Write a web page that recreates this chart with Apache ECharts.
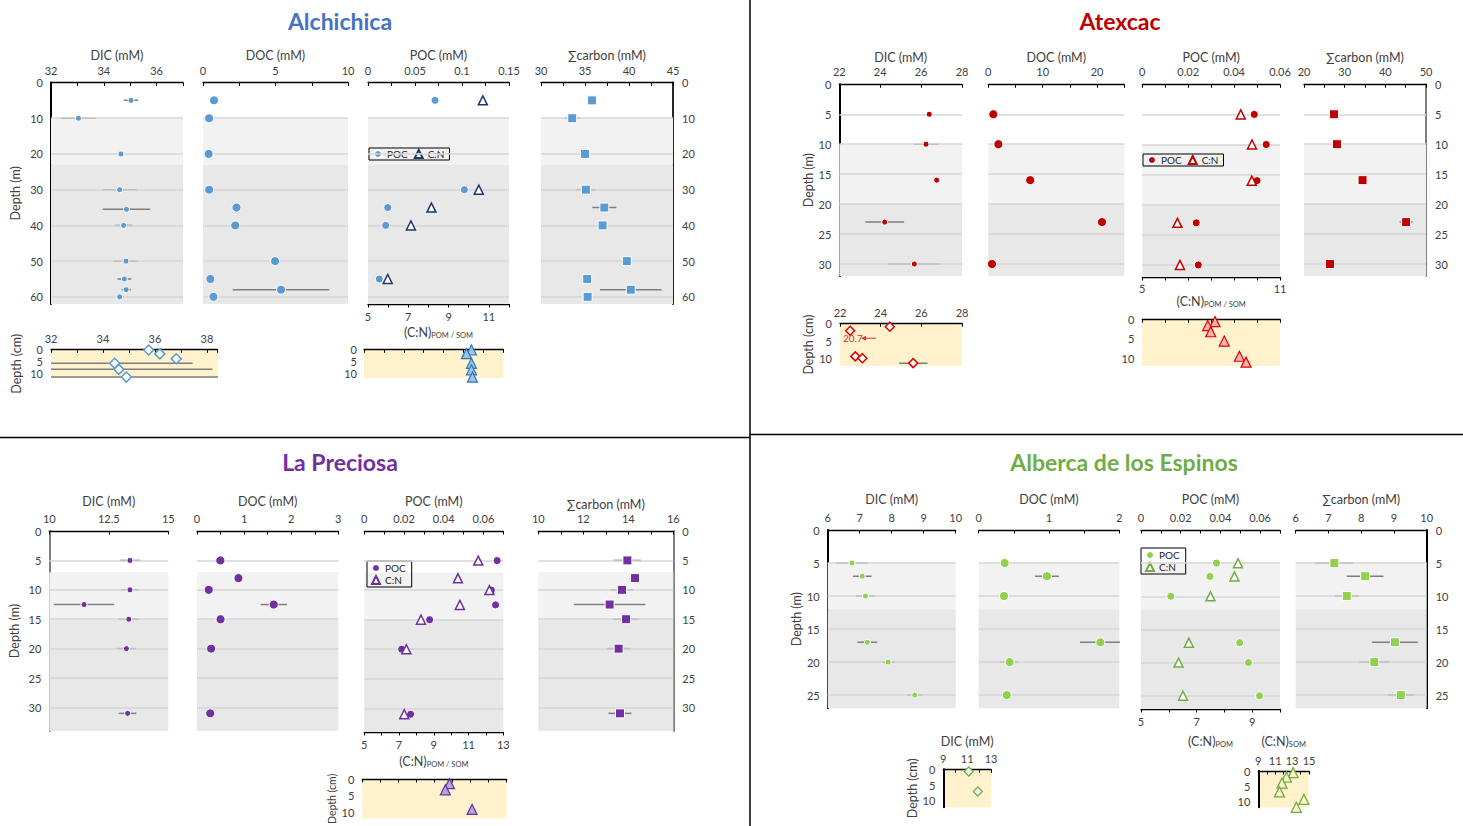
<!DOCTYPE html>
<html>
<head>
<meta charset="utf-8">
<script src="https://cdn.jsdelivr.net/npm/echarts@6/dist/echarts.min.js"></script>
<style>
html, body { margin: 0; padding: 0; background: #fff; }
#main { width: 1463px; height: 826px; }
</style>
</head>
<body>
<div id="main"></div>
<script>
// ---------- Alchichica ----------
var alcDicDepth = [5, 10, 20, 30, 35.5, 40, 50, 55, 58, 60];
var alcDic = [35.03, 33.04, 34.65, 34.6, 34.86, 34.75, 34.84, 34.78, 34.85, 34.6];
var alcDicErr = [0.27, 0.66, 0.05, 0.65, 0.9, 0.34, 0.46, 0.26, 0.18, 0.05];
var alcDocDepth = [5, 10, 20, 30, 35, 40, 50, 55, 58, 60];
var alcDoc = [0.76, 0.42, 0.39, 0.42, 2.31, 2.22, 4.97, 0.51, 5.38, 0.72];
var alcDocErr = [0, 0, 0, 0, 0, 0, 0, 0, 3.33, 0.3];
var alcPocDepth = [5, 30, 35, 40, 55];
var alcPoc = [0.0713, 0.1025, 0.021, 0.0188, 0.012];
var alcCn = [10.7, 10.5, 8.15, 7.13, 5.98];
var alcSumDepth = [5, 10, 20, 30, 35, 40, 50, 55, 58, 60];
var alcSum = [35.8, 33.55, 35.0, 35.1, 37.2, 37.0, 39.75, 35.25, 40.2, 35.3];
var alcSumErr = [0.45, 0.9, 0.1, 1.1, 1.36, 0.3, 0.3, 0.2, 3.5, 0.1];
var alcSedDicDepth = [0.3, 1.9, 3.9, 5.8, 8.3, 11.5];
var alcSedDic = [35.76, 36.19, 36.82, 34.45, 34.61, 34.9];
var alcSedDicErr = [0, 0, 0, 3.0, 3.6, 3.6];
var alcSedCnDepth = [0.3, 1.8, 5.8, 8.5, 11.5];
var alcSedCn = [10.4, 10.15, 10.4, 10.4, 10.45];
var alcBands = [[10, 23], [23, 62]];
var alcDepthTicks = [0, 10, 20, 30, 40, 50, 60];
var alcGridLines = [10, 20, 30, 40, 50, 60];

// ---------- Atexcac ----------
var atxDepth = [5, 10, 16, 23, 30];
var atxDic = [26.4, 26.24, 26.76, 24.22, 25.67];
var atxDicErr = [0.05, 0.61, 0.05, 0.95, 1.29];
var atxDoc = [0.92, 1.85, 7.7, 20.9, 0.68];
var atxPoc = [0.0488, 0.054, 0.05, 0.0235, 0.0244];
var atxCn = [9.29, 9.78, 9.77, 6.53, 6.64];
var atxSum = [27.38, 28.1, 34.4, 45.1, 26.4];
var atxSumErr = [0.4, 0.4, 0.5, 1.6, 1.5];
var atxSedDicDepth = [0.95, 2.1, 9.3, 9.8, 11.2];
var atxSedDic = [24.45, 22.5, 22.75, 23.1, 25.6];
var atxSedDicErr = [0, 0, 0, 0, 0.7];
var atxSedOffDepth = [4.2];
var atxSedOffValue = [20.7];
var atxSedCnDepth = [0.6, 1.6, 3.2, 5.6, 9.5, 11];
var atxSedCn = [8.17, 7.85, 7.98, 8.57, 9.23, 9.52];
var atxBands = [[10, 20], [20, 32]];
var atxDepthTicks = [0, 5, 10, 15, 20, 25, 30];
var atxGridLines = [5, 10, 15, 20, 25, 30];

// ---------- La Preciosa ----------
var lapDicDepth = [5, 10, 12.5, 15, 20, 31];
var lapDic = [13.39, 13.39, 11.46, 13.34, 13.24, 13.29];
var lapDicErr = [0.41, 0.37, 1.27, 0.44, 0.41, 0.37];
var lapDocDepth = [5, 8, 10, 12.5, 15, 20, 31];
var lapDoc = [0.495, 0.88, 0.25, 1.63, 0.5, 0.3, 0.28];
var lapDocErr = [0, 0, 0, 0.28, 0.05, 0.1, 0];
var lapPocDepth = [5, 10, 12.5, 15, 20, 31];
var lapPoc = [0.0669, 0.064, 0.0661, 0.0329, 0.0188, 0.0233];
var lapCnDepth = [5, 8, 10, 12.5, 15, 20, 31];
var lapCn = [11.56, 10.39, 12.2, 10.5, 8.26, 7.42, 7.3];
var lapSumDepth = [5, 8, 10, 12.5, 15, 20, 31];
var lapSum = [13.96, 14.3, 13.72, 13.17, 13.9, 13.57, 13.63];
var lapSumErr = [0.61, 0, 0.51, 1.59, 0.59, 0.52, 0.51];
var lapSedCnDepth = [1.4, 3.3, 9.2];
var lapSedCn = [9.83, 9.6, 11.08];
var lapBands = [[7, 15], [15, 34]];
var lapDepthTicks = [0, 5, 10, 15, 20, 25, 30];
var lapGridLines = [5, 10, 15, 20, 25, 30];

// ---------- Alberca de los Espinos ----------
var albDepth = [5, 7, 10, 17, 20, 25];
var albDic = [6.76, 7.08, 7.18, 7.24, 7.89, 8.72];
var albDicErr = [0.49, 0.29, 0.3, 0.31, 0.21, 0.24];
var albDoc = [0.37, 0.97, 0.36, 1.73, 0.44, 0.4];
var albDocErr = [0.02, 0.17, 0.07, 0.29, 0.13, 0.07];
var albPoc = [0.038, 0.0347, 0.015, 0.0497, 0.0541, 0.0597];
var albCn = [8.49, 8.36, 7.5, 6.72, 6.35, 6.51];
var albSum = [7.18, 8.12, 7.56, 9.03, 8.4, 9.21];
var albSumErr = [0.58, 0.56, 0.38, 0.7, 0.46, 0.4];
var albSedDicDepth = [0.7, 7];
var albSedDic = [11.13, 11.9];
var albSedCnDepth = [0.55, 2.05, 4.0, 6.9, 9.4, 12];
var albSedCn = [13.12, 12.33, 11.8, 11.5, 14.4, 13.5];
var albBands = [[5, 12], [12, 27]];
var albDepthTicks = [0, 5, 10, 15, 20, 25];
var albGridLines = [5, 10, 15, 20, 25];

var sedDepthTicks = [0, 5, 10];

// ---------- chart ----------
var chart = echarts.init(document.getElementById('main'), null, {renderer: 'svg'});
var FONT = 'Lato, "Open Sans", sans-serif';
var TXT = '#404040';
var LIGHT = '#f2f2f2', DARK = '#e8e8e8', LINE = '#d6d6d6', SED = '#FFF2CC';
var SUB = {s: {fontSize: 7.5, color: TXT, fontFamily: FONT, padding: [6, 0, 0, 0]}};

var grid = [], xAxis = [], yAxis = [], series = [], legend = [];

function showIf(list) {
    return function (v) {
        for (var i = 0; i < list.length; i++) {
            if (Math.abs(v - list[i]) < 1e-6) return String(+v.toFixed(4));
        }
        return '';
    };
}

function addGrid(b, bg) {
    grid.push({left: b[0], top: b[1], width: b[2] - b[0], height: b[3] - b[1],
        show: !!bg, backgroundColor: bg || 'transparent', borderWidth: 0,
        outerBoundsMode: 'none'});
    return grid.length - 1;
}

function addX(g, o) {
    var bottom = o.pos === 'bottom';
    xAxis.push({
        gridIndex: g, type: 'value', position: o.pos || 'top',
        min: o.min, max: o.max, interval: o.step,
        name: o.name || '', nameLocation: 'middle', nameGap: o.gap || 21,
        nameTextStyle: {color: TXT, fontSize: 12.5, fontFamily: FONT, rich: SUB},
        axisLine: {show: true, onZero: false, lineStyle: {color: '#000', width: 1.3}},
        axisTick: {show: true, inside: !bottom, length: 3.5, lineStyle: {color: '#000', width: 1}},
        axisLabel: {show: !!o.labels, margin: o.margin || 7, color: TXT, fontSize: 11, fontFamily: FONT,
            formatter: showIf(o.labels || []), showMinLabel: true, showMaxLabel: true, hideOverlap: false},
        splitLine: {show: false}
    });
    return xAxis.length - 1;
}

function addY(g, o) {
    yAxis.push({
        gridIndex: g, type: 'value', inverse: true, position: o.pos || 'left',
        min: 0, max: o.max, interval: o.step,
        name: o.name || '', nameLocation: 'middle', nameGap: o.gap || 24, nameRotate: 90,
        nameTextStyle: {color: TXT, fontSize: o.nameSize || 12.5, fontFamily: FONT},
        axisLine: {show: !!o.line, onZero: false, lineStyle: {color: o.lineColor || '#000', width: 2}},
        axisTick: {show: false},
        axisLabel: {show: !!o.labels, margin: o.margin || 8, color: TXT, fontSize: 11, fontFamily: FONT,
            formatter: showIf(o.labels || []), showMinLabel: true, showMaxLabel: true},
        splitLine: {show: false}
    });
    return yAxis.length - 1;
}

function addBands(xi, yi, bands, lines) {
    series.push({
        type: 'line', xAxisIndex: xi, yAxisIndex: yi, data: [], silent: true, z: 1,
        markArea: {silent: true, itemStyle: {color: LIGHT},
            data: bands.map(function (b, i) {
                return [{yAxis: b[0], itemStyle: {color: i === 0 ? LIGHT : DARK}}, {yAxis: b[1]}];
            })},
        markLine: {silent: true, symbol: 'none', label: {show: false},
            lineStyle: {color: LINE, width: 1.5, type: 'solid'},
            data: lines.map(function (d) { return {yAxis: d}; })}
    });
}

function plot(b, xo, yo, bands, lines, x2o) {
    var g = addGrid(b);
    var r = {x: addX(g, xo), y: addY(g, yo)};
    if (x2o) r.x2 = addX(g, x2o);
    if (bands) addBands(r.x, r.y, bands, lines);
    return r;
}

function sedPlot(b, xo, yo) {
    var g = addGrid(b, SED);
    return {x: addX(g, xo), y: addY(g, yo)};
}

function pts(xs, ys) {
    return xs.map(function (v, i) { return [v, ys[i]]; });
}

function dots(name, xi, yi, xs, ys, sym, size, fill, stroke, bw) {
    series.push({
        type: 'scatter', name: name, xAxisIndex: xi, yAxisIndex: yi, data: pts(xs, ys),
        symbol: sym, symbolSize: size, silent: true, z: 5,
        itemStyle: {color: fill, borderColor: stroke, borderWidth: bw, opacity: 1}
    });
}

function errs(xi, yi, xs, ys, es) {
    series.push({
        type: 'custom', xAxisIndex: xi, yAxisIndex: yi, clip: true, silent: true, z: 4,
        data: xs.map(function (v, i) { return [v - es[i], v + es[i], ys[i]]; }),
        encode: {x: [0, 1], y: 2},
        renderItem: function (params, api) {
            var a = api.coord([api.value(0), api.value(2)]);
            var c = api.coord([api.value(1), api.value(2)]);
            return {type: 'line', shape: {x1: a[0], y1: a[1], x2: c[0], y2: c[1]},
                style: {stroke: '#7f7f7f', lineWidth: 1.5}};
        }
    });
}

function pocLegend(key, left, top, vertical) {
    legend.push({
        left: left, top: top, orient: vertical ? 'vertical' : 'horizontal',
        data: ['POC#' + key, 'C:N#' + key], selectedMode: false,
        formatter: function (n) { return n.split('#')[0]; },
        borderColor: '#000', borderWidth: 1, borderRadius: 0,
        padding: vertical ? [2, 6, 2, 4] : [1, 5, 1, 4], itemGap: vertical ? 2 : 6,
        itemWidth: 8, itemHeight: 8,
        textStyle: {fontSize: 10, color: '#262626', fontFamily: FONT}
    });
}

// ---------- Alchichica ----------
var C1 = '#5B9BD5', C1d = '#1F3864';
var a1 = plot([51, 82.5, 183, 304], {min: 32, max: 37, step: 1, labels: [32, 34, 36], name: 'DIC (mM)'},
    {max: 62, step: 10, labels: alcDepthTicks, line: true, name: 'Depth (m)', gap: 29}, alcBands, alcGridLines);
var a2 = plot([203, 82.5, 348, 304], {min: 0, max: 10, step: 2.5, labels: [0, 5, 10], name: 'DOC (mM)'},
    {max: 62, step: 10}, alcBands, alcGridLines);
var a3 = plot([368, 82.5, 509, 304], {min: 0, max: 0.15, step: 0.025, labels: [0, 0.05, 0.1, 0.15], name: 'POC (mM)'},
    {max: 62, step: 10}, alcBands, alcGridLines,
    {pos: 'bottom', min: 5, max: 12, step: 1, labels: [5, 7, 9, 11], name: '(C:N){s|POM / SOM}', gap: 21});
var a4 = plot([541, 82.5, 673, 304], {min: 30, max: 45, step: 2.5, labels: [30, 35, 40, 45], name: '∑carbon (mM)'},
    {max: 62, step: 10, labels: alcDepthTicks, line: true, pos: 'right', lineColor: '#262626', margin: 9}, alcBands, alcGridLines);
var a5 = sedPlot([51, 349.3, 217.3, 378.3], {min: 32, max: 38.4, step: 1, labels: [32, 34, 36, 38], margin: 5},
    {max: 12, step: 5, labels: sedDepthTicks, name: 'Depth (cm)', gap: 28});
var a6 = sedPlot([364, 349.3, 503.3, 378.3], {min: 5, max: 12, step: 1},
    {max: 12, step: 5, labels: sedDepthTicks, margin: 7});

errs(a1.x, a1.y, alcDic, alcDicDepth, alcDicErr);
dots('DIC', a1.x, a1.y, alcDic, alcDicDepth, 'circle', 6, C1, '#fff', 1);
errs(a2.x, a2.y, alcDoc, alcDocDepth, alcDocErr);
dots('DOC', a2.x, a2.y, alcDoc, alcDocDepth, 'circle', 9, C1, '#fff', 1);
dots('POC#alc', a3.x, a3.y, alcPoc, alcPocDepth, 'circle', 8, C1, '#fff', 1);
dots('C:N#alc', a3.x2, a3.y, alcCn, alcPocDepth, 'triangle', 9, '#fff', C1d, 1.5);
errs(a4.x, a4.y, alcSum, alcSumDepth, alcSumErr);
dots('SUM', a4.x, a4.y, alcSum, alcSumDepth, 'rect', 9, C1, '#fff', 1);
errs(a5.x, a5.y, alcSedDic, alcSedDicDepth, alcSedDicErr);
dots('sedDIC', a5.x, a5.y, alcSedDic, alcSedDicDepth, 'diamond', 10, '#fff', C1, 1.5);
dots('sedCN', a6.x, a6.y, alcSedCn, alcSedCnDepth, 'triangle', 10, '#9DC3E6', '#2E75B6', 1.2);
pocLegend('alc', 369, 148, false);

// ---------- Atexcac ----------
var C2 = '#C00000';
var b1 = plot([839.3, 84.3, 962, 276], {min: 22, max: 28, step: 2, labels: [22, 24, 26, 28], name: 'DIC (mM)', gap: 20.5},
    {max: 32, step: 5, labels: atxDepthTicks, line: true, name: 'Depth (m)', gap: 22}, atxBands, atxGridLines);
var b2 = plot([988.3, 84.3, 1124.3, 276], {min: 0, max: 25, step: 5, labels: [0, 10, 20], name: 'DOC (mM)', gap: 20.5},
    {max: 32, step: 5}, atxBands, atxGridLines);
var b3 = plot([1142.3, 84.3, 1280, 277], {min: 0, max: 0.06, step: 0.01, labels: [0, 0.02, 0.04, 0.06], name: 'POC (mM)', gap: 20.5},
    {max: 32, step: 5}, atxBands, atxGridLines,
    {pos: 'bottom', min: 5, max: 11, step: 1, labels: [5, 11], name: '(C:N){s|POM / SOM}', gap: 17, margin: 6});
var b4 = plot([1304, 84.3, 1426, 276], {min: 20, max: 50, step: 5, labels: [20, 30, 40, 50], name: '∑carbon (mM)', gap: 20.5},
    {max: 32, step: 5, labels: atxDepthTicks, line: true, pos: 'right', lineColor: '#7f7f7f', margin: 9}, atxBands, atxGridLines);
var b5 = sedPlot([840, 323.3, 962, 366], {min: 22, max: 28, step: 2, labels: [22, 24, 26, 28], margin: 5},
    {max: 12, step: 5, labels: sedDepthTicks, name: 'Depth (cm)', gap: 14});
var b6 = sedPlot([1142.3, 319.3, 1280, 366], {min: 5, max: 11, step: 1},
    {max: 12, step: 5, labels: sedDepthTicks, margin: 8});

errs(b1.x, b1.y, atxDic, atxDepth, atxDicErr);
dots('DIC', b1.x, b1.y, atxDic, atxDepth, 'circle', 6, C2, '#fff', 1);
dots('DOC', b2.x, b2.y, atxDoc, atxDepth, 'circle', 9, C2, '#fff', 1);
dots('POC#atx', b3.x, b3.y, atxPoc, atxDepth, 'circle', 8, C2, '#fff', 1);
dots('C:N#atx', b3.x2, b3.y, atxCn, atxDepth, 'triangle', 9, '#fff', C2, 1.5);
errs(b4.x, b4.y, atxSum, atxDepth, atxSumErr);
dots('SUM', b4.x, b4.y, atxSum, atxDepth, 'rect', 9, C2, '#fff', 1);
errs(b5.x, b5.y, atxSedDic, atxSedDicDepth, atxSedDicErr);
dots('sedDIC', b5.x, b5.y, atxSedDic, atxSedDicDepth, 'diamond', 9, '#fff', '#E00000', 1.5);
dots('sedCN', b6.x, b6.y, atxSedCn, atxSedCnDepth, 'triangle', 10, '#F8B4B4', '#E00000', 1.2);
pocLegend('atx', 1143, 154, false);

// off-scale value annotation (20.7) in the Atexcac sediment DIC panel
series.push({
    type: 'custom', xAxisIndex: b5.x, yAxisIndex: b5.y, silent: true, z: 6,
    data: atxSedOffValue.map(function (v, i) { return [v, atxSedOffDepth[i]]; }),
    renderItem: function (params, api) {
        var x0 = params.coordSys.x;
        var y = api.coord([25, api.value(1)])[1];
        return {type: 'group', children: [
            {type: 'text', style: {text: String(api.value(0)), x: x0 + 3, y: y, fill: '#E03030',
                font: '10px Lato', verticalAlign: 'middle', textVerticalAlign: 'middle'}},
            {type: 'line', shape: {x1: x0 + 36, y1: y, x2: x0 + 25, y2: y}, style: {stroke: '#E03030', lineWidth: 1}},
            {type: 'polygon', shape: {points: [[x0 + 21, y], [x0 + 26, y - 2.5], [x0 + 26, y + 2.5]]}, style: {fill: '#E03030'}}
        ]};
    }
});

// ---------- La Preciosa ----------
var C3 = '#7030A0';
var c1 = plot([49.3, 531, 168.3, 731], {min: 10, max: 15, step: 2.5, labels: [10, 12.5, 15], name: 'DIC (mM)', gap: 23.5},
    {max: 34, step: 5, labels: lapDepthTicks, line: true, lineColor: '#7f7f7f', name: 'Depth (m)', gap: 28}, lapBands, lapGridLines);
var c2 = plot([197, 531, 338.3, 731], {min: 0, max: 3, step: 0.5, labels: [0, 1, 2, 3], name: 'DOC (mM)', gap: 23.5},
    {max: 34, step: 5}, lapBands, lapGridLines);
var c3 = plot([364.3, 531, 503.3, 732], {min: 0, max: 0.07, step: 0.01, labels: [0, 0.02, 0.04, 0.06], name: 'POC (mM)', gap: 23.5},
    {max: 34, step: 5}, lapBands, lapGridLines,
    {pos: 'bottom', min: 5, max: 13, step: 1, labels: [5, 7, 9, 11, 13], name: '(C:N){s|POM / SOM}', gap: 22});
var c4 = plot([538.3, 531, 673.3, 731], {min: 10, max: 16, step: 1, labels: [10, 12, 14, 16], name: '∑carbon (mM)', gap: 20.5},
    {max: 34, step: 5, labels: lapDepthTicks, line: true, pos: 'right', lineColor: '#7f7f7f', margin: 9}, lapBands, lapGridLines);
var c5 = sedPlot([362.3, 779, 506.7, 818.6], {min: 5, max: 13, step: 1},
    {max: 12, step: 5, labels: sedDepthTicks, name: 'Depth (cm)', gap: 25, nameSize: 10.5});

errs(c1.x, c1.y, lapDic, lapDicDepth, lapDicErr);
dots('DIC', c1.x, c1.y, lapDic, lapDicDepth, 'circle', 6, C3, '#fff', 1);
errs(c2.x, c2.y, lapDoc, lapDocDepth, lapDocErr);
dots('DOC', c2.x, c2.y, lapDoc, lapDocDepth, 'circle', 9, C3, '#fff', 1);
dots('POC#lap', c3.x, c3.y, lapPoc, lapPocDepth, 'circle', 8, C3, '#fff', 1);
dots('C:N#lap', c3.x2, c3.y, lapCn, lapCnDepth, 'triangle', 9, '#fff', C3, 1.5);
errs(c4.x, c4.y, lapSum, lapSumDepth, lapSumErr);
dots('SUM', c4.x, c4.y, lapSum, lapSumDepth, 'rect', 9, C3, '#fff', 1);
dots('sedCN', c5.x, c5.y, lapSedCn, lapSedCnDepth, 'triangle', 10, '#B4A7D6', C3, 1.2);
pocLegend('lap', 367, 561, true);

// ---------- Alberca de los Espinos ----------
var C4 = '#92D050', C4d = '#70AD47';
var d1 = plot([827.7, 530, 955.7, 708.3], {min: 6, max: 10, step: 1, labels: [6, 7, 8, 9, 10], name: 'DIC (mM)', gap: 24},
    {max: 27, step: 5, labels: albDepthTicks, line: true, name: 'Depth (m)', gap: 20}, albBands, albGridLines);
var d2 = plot([978.7, 530, 1119.3, 708.3], {min: 0, max: 2, step: 0.5, labels: [0, 1, 2], name: 'DOC (mM)', gap: 24},
    {max: 27, step: 5}, albBands, albGridLines);
var d3 = plot([1141, 530, 1280, 709], {min: 0, max: 0.07, step: 0.01, labels: [0, 0.02, 0.04, 0.06], name: 'POC (mM)', gap: 24},
    {max: 27, step: 5}, albBands, albGridLines,
    {pos: 'bottom', min: 5, max: 10, step: 1, labels: [5, 7, 9], name: '(C:N){s|POM}', gap: 25});
var d4 = plot([1295.7, 530, 1426.7, 708.3], {min: 6, max: 10, step: 1, labels: [6, 7, 8, 9, 10], name: '∑carbon (mM)', gap: 24},
    {max: 27, step: 5, labels: albDepthTicks, line: true, pos: 'right', lineColor: '#000', margin: 9}, albBands, albGridLines);
var d5 = sedPlot([943.3, 769.3, 991, 807.3], {min: 9, max: 13, step: 1, labels: [9, 11, 13], name: 'DIC (mM)', gap: 21, margin: 5},
    {max: 12, step: 5, labels: sedDepthTicks, line: true, name: 'Depth (cm)', gap: 23});
var d6 = sedPlot([1258.3, 771, 1309, 807.3], {min: 9, max: 15, step: 1, labels: [9, 11, 13, 15], name: '(C:N){s|SOM}', gap: 23, margin: 5},
    {max: 12, step: 5, labels: sedDepthTicks, line: true});

errs(d1.x, d1.y, albDic, albDepth, albDicErr);
dots('DIC', d1.x, d1.y, albDic, albDepth, 'circle', 6, C4, '#fff', 1);
errs(d2.x, d2.y, albDoc, albDepth, albDocErr);
dots('DOC', d2.x, d2.y, albDoc, albDepth, 'circle', 9, C4, '#fff', 1);
dots('POC#alb', d3.x, d3.y, albPoc, albDepth, 'circle', 8, C4, '#fff', 1);
dots('C:N#alb', d3.x2, d3.y, albCn, albDepth, 'triangle', 9, '#fff', C4d, 1.5);
errs(d4.x, d4.y, albSum, albDepth, albSumErr);
dots('SUM', d4.x, d4.y, albSum, albDepth, 'rect', 9, C4, '#fff', 1);
dots('sedDIC', d5.x, d5.y, albSedDic, albSedDicDepth, 'diamond', 9, '#fff', C4d, 1.3);
dots('sedCN', d6.x, d6.y, albSedCn, albSedCnDepth, 'triangle', 10, SED, C4d, 1.3);
pocLegend('alb', 1141, 548, true);

function title(text, x, y, color) {
    return {type: 'text', x: x, y: y, z: 10,
        style: {text: text, fill: color, font: 'bold 23px ' + FONT,
            align: 'center', verticalAlign: 'middle', textAlign: 'center', textVerticalAlign: 'middle'}};
}
function rule(x1, y1, x2, y2) {
    return {type: 'line', z: 10, shape: {x1: x1, y1: y1, x2: x2, y2: y2}, style: {stroke: '#000', lineWidth: 1.5}};
}

chart.setOption({
    animation: false,
    textStyle: {fontFamily: FONT},
    grid: grid,
    xAxis: xAxis,
    yAxis: yAxis,
    legend: legend,
    series: series,
    graphic: [
        title('Alchichica', 340, 21, '#4472C4'),
        title('Atexcac', 1120, 21, '#C00000'),
        title('La Preciosa', 340, 462, '#7030A0'),
        title('Alberca de los Espinos', 1124, 462, '#70AD47'),
        rule(750, 0, 750, 826),
        rule(0, 437.5, 750, 437.5),
        rule(750, 434.5, 1463, 434.5)
    ]
});
</script>
</body>
</html>
